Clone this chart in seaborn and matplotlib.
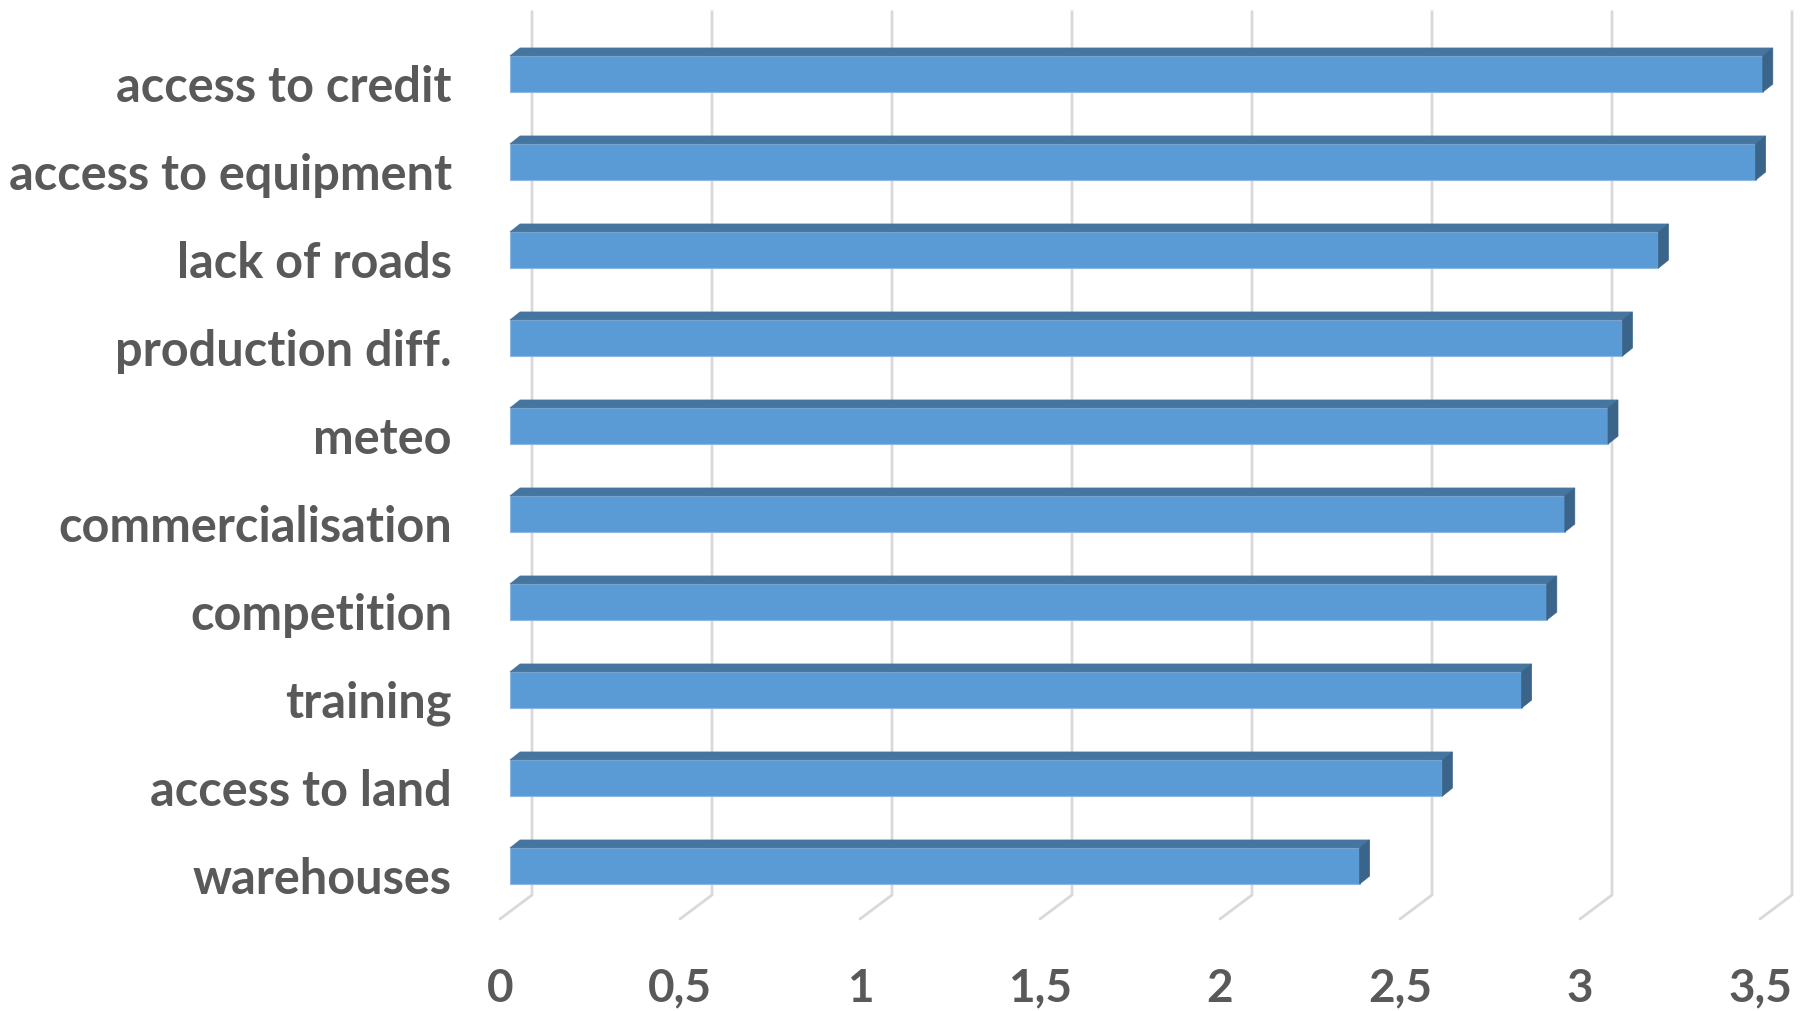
import numpy as np
import pandas as pd
import matplotlib
matplotlib.use("Agg")
import matplotlib.pyplot as plt
import seaborn as sns
from matplotlib.patches import Polygon
from matplotlib.transforms import ScaledTranslation

categories = ["access to credit", "access to equipment", "lack of roads", "production diff.",
              "meteo", "commercialisation", "competition", "training", "access to land", "warehouses"]
values = [3.48, 3.46, 3.19, 3.09, 3.05, 2.93, 2.88, 2.81, 2.59, 2.36]
tick_values = [0, 0.5, 1, 1.5, 2, 2.5, 3, 3.5]
tick_labels = ["0", "0,5", "1", "1,5", "2", "2,5", "3", "3,5"]

sns.set_theme(style="white")
plt.rcParams['font.family'] = ['Lato', 'DejaVu Sans']

W, H = 1801, 1011
fig = plt.figure(figsize=(W / 100, H / 100), dpi=100)
L, R, T, B = 470, 1801, 0, 930
ax = fig.add_axes([L / W, 1 - B / H, (R - L) / W, (B - T) / H])

PXX = 360.0   # pixels per unit on x
X0 = 510.0    # pixel of value 0 on bar front face
PXY = 88.0    # pixels per category
Y0 = 74.0     # pixel centre of first category

df = pd.DataFrame({"category": categories, "value": values})
sns.barplot(data=df, x="value", y="category", orient="h", color="#5B9BD5",
            saturation=1, width=0.41, ax=ax, zorder=3, linewidth=0.8, edgecolor="#8DB8E2")

ax.set_xlim((L - X0) / PXX, (R - X0) / PXX)
ax.set_ylim((B - Y0) / PXY, (T - Y0) / PXY)

# 3D faces of bars
dx, dy = 10 / PXX, -8 / PXY
for p in list(ax.patches):
    x0, w, y0, h = p.get_x(), p.get_width(), p.get_y(), p.get_height()
    top = Polygon([(x0, y0), (x0 + w, y0), (x0 + w + dx, y0 + dy), (x0 + dx, y0 + dy)],
                  closed=True, facecolor="#46759F", edgecolor="#46759F", lw=0.5, zorder=3)
    side = Polygon([(x0 + w, y0), (x0 + w, y0 + h), (x0 + w + dx, y0 + h + dy), (x0 + w + dx, y0 + dy)],
                   closed=True, facecolor="#3A648A", edgecolor="#3A648A", lw=0.5, zorder=3)
    ax.add_patch(top)
    ax.add_patch(side)

# gridlines (back wall + floor diagonal)
i_top = (11.5 - Y0) / PXY
i_back = (895 - Y0) / PXY
i_front = (919 - Y0) / PXY
for v in tick_values:
    xb = v + 22 / PXX
    xf = v - 10 / PXX
    ax.plot([xb, xb, xf], [i_top, i_back, i_front], color="#D9D9D9", lw=2,
            zorder=1, clip_on=False, solid_joinstyle="miter")

ax.set_xticks([v - 10 / PXX for v in tick_values])
ax.set_xticklabels(tick_labels)
ax.tick_params(axis="x", length=0, pad=27, labelsize=33, labelcolor="#595959")
ax.tick_params(axis="y", length=0, pad=13, labelsize=35, labelcolor="#595959")
shift = ScaledTranslation(0, -9 / 100, fig.dpi_scale_trans)
for t in ax.get_yticklabels():
    t.set_fontweight("bold")
    t.set_transform(t.get_transform() + shift)
for t in ax.get_xticklabels():
    t.set_fontweight("bold")
ax.set_xlabel("")
ax.set_ylabel("")
for s in ax.spines.values():
    s.set_visible(False)

fig.savefig("out.png", dpi=100)
